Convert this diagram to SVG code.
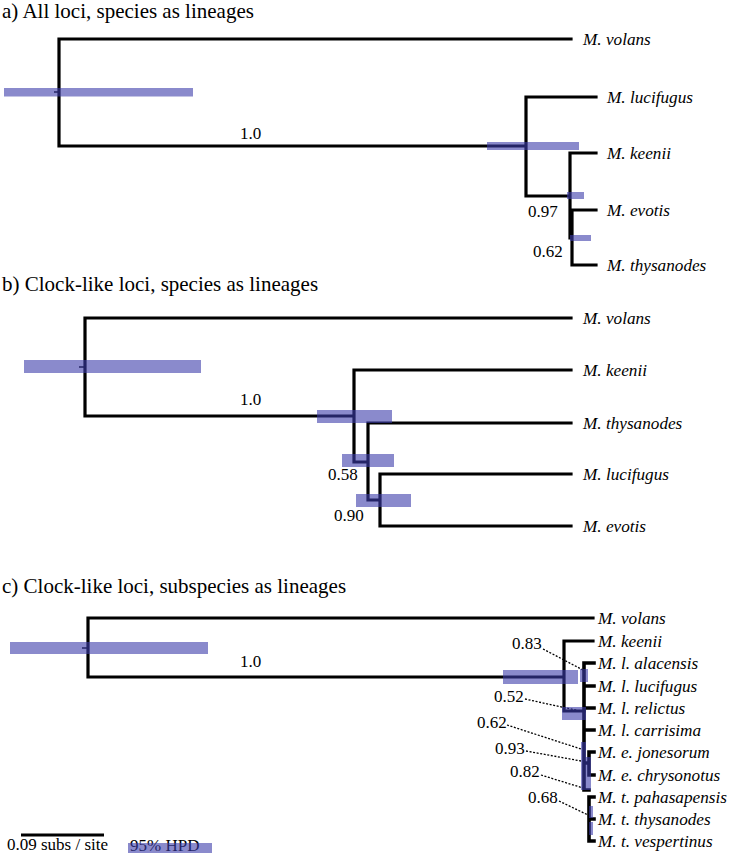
<svg xmlns="http://www.w3.org/2000/svg" width="730" height="853" viewBox="0 0 730 853">
<style>
text{font-family:"Liberation Serif","Times New Roman",serif;fill:#000}
.title{font-size:21px}
.tip{font-size:17.2px;font-style:italic}
.sup{font-size:17px}
.br{stroke:#000;stroke-width:3.2;fill:none;stroke-linecap:square}
.stub{stroke:#000;stroke-width:1.5}
.hpd{fill:rgb(60,60,170);fill-opacity:0.6}
.dot{stroke:#000;stroke-width:1.3;stroke-dasharray:2 1.6;fill:none}
</style>
<rect width="730" height="853" fill="#fff"/>

<g id="panel-a">
<text class="title" x="2" y="18">a) All loci, species as lineages</text>
<g id="a-connectors">
<line class="stub" x1="54" y1="92" x2="59" y2="92"/>
<path class="br" d="M571,39 H59 V146 H526 M596,97 H526 V196 H570 M596,153 H570 V238 H572 M596,210 H572 V265 H596"/>
</g>
<g id="a-hpd">
<rect class="hpd" x="4" y="88" width="189" height="8.5"/>
<rect class="hpd" x="487" y="142" width="92" height="8"/>
<rect class="hpd" x="567" y="192" width="17" height="7"/>
<rect class="hpd" x="570" y="235" width="21" height="6"/>
</g>
<g id="a-labels">
<text class="sup" x="240" y="139">1.0</text>
<text class="sup" x="528" y="217">0.97</text>
<text class="sup" x="533" y="257">0.62</text>
</g>
<g id="a-volans"><text class="tip" x="583" y="45">M. volans</text></g>
<g id="a-lucifugus"><text class="tip" x="607" y="102.5">M. lucifugus</text></g>
<g id="a-keenii"><text class="tip" x="607" y="158.5">M. keenii</text></g>
<g id="a-evotis"><text class="tip" x="607" y="215.5">M. evotis</text></g>
<g id="a-thysanodes"><text class="tip" x="607" y="270.5">M. thysanodes</text></g>
</g>

<g id="panel-b">
<text class="title" x="2" y="291">b) Clock-like loci, species as lineages</text>
<g id="b-connectors">
<line class="stub" x1="79" y1="367" x2="85" y2="367"/>
<path class="br" d="M571,318 H85 V416 H354 M571,370 H354 V462 H368 M571,423 H368 V500 H380 M571,474 H380 V526 H571"/>
</g>
<g id="b-hpd">
<rect class="hpd" x="24" y="360" width="177" height="13"/>
<rect class="hpd" x="317" y="410" width="75" height="13"/>
<rect class="hpd" x="342" y="454" width="52" height="13"/>
<rect class="hpd" x="356" y="494" width="55" height="13"/>
</g>
<g id="b-labels">
<text class="sup" x="240" y="405">1.0</text>
<text class="sup" x="328" y="480">0.58</text>
<text class="sup" x="334" y="521">0.90</text>
</g>
<g id="b-volans"><text class="tip" x="583" y="324">M. volans</text></g>
<g id="b-keenii"><text class="tip" x="583" y="376">M. keenii</text></g>
<g id="b-thysanodes"><text class="tip" x="583" y="429">M. thysanodes</text></g>
<g id="b-lucifugus"><text class="tip" x="583" y="480">M. lucifugus</text></g>
<g id="b-evotis"><text class="tip" x="583" y="532">M. evotis</text></g>
</g>

<g id="panel-c">
<text class="title" x="2" y="593">c) Clock-like loci, subspecies as lineages</text>
<g id="c-connectors">
<line class="stub" x1="82" y1="648" x2="88" y2="648"/>
<path class="br" d="M593,618 H88 V677 H564 M593,641 H564 V711 H584"/>
<path class="br" style="stroke-width:3.6" d="M594,663 H584 V790 H589 M584,686 H594 M584,708 H594 M584,730 H594 M584,763 H589 M594,752 H589 V775 H594 M594,797 H589 V841 H594 M589,819 H594"/>
<path class="dot" d="M543,649 L583,670 M525,699 L580,711 M507,725 L581,749 M526,751 L581,761 M541,775 L583,788 M559,801 L588,815"/>
</g>
<g id="c-hpd">
<rect class="hpd" x="10" y="642" width="198" height="12"/>
<rect class="hpd" x="503" y="670" width="75" height="14"/>
<rect class="hpd" x="580" y="669" width="8" height="13"/>
<rect class="hpd" x="562" y="707" width="24" height="13"/>
<rect class="hpd" x="581" y="742" width="5" height="48"/>
<rect class="hpd" x="586" y="757" width="5" height="33"/>
<rect class="hpd" x="589" y="806" width="4" height="12"/>
<rect class="hpd" x="589" y="822" width="4" height="13"/>
</g>
<g id="c-labels">
<text class="sup" x="240" y="667">1.0</text>
<text class="sup" x="512" y="649">0.83</text>
<text class="sup" x="494" y="702">0.52</text>
<text class="sup" x="477" y="728">0.62</text>
<text class="sup" x="495" y="754">0.93</text>
<text class="sup" x="510" y="777">0.82</text>
<text class="sup" x="528" y="803">0.68</text>
</g>
<g id="c-volans"><text class="tip" x="598" y="623.5">M. volans</text></g>
<g id="c-keenii"><text class="tip" x="598" y="646.5">M. keenii</text></g>
<g id="c-alacensis"><text class="tip" x="598" y="668.5">M. l. alacensis</text></g>
<g id="c-lucifugus"><text class="tip" x="598" y="691.5">M. l. lucifugus</text></g>
<g id="c-relictus"><text class="tip" x="598" y="713.5">M. l. relictus</text></g>
<g id="c-carrisima"><text class="tip" x="598" y="735.5">M. l. carrisima</text></g>
<g id="c-jonesorum"><text class="tip" x="598" y="757.5">M. e. jonesorum</text></g>
<g id="c-chrysonotus"><text class="tip" x="598" y="780.5">M. e. chrysonotus</text></g>
<g id="c-pahasapensis"><text class="tip" x="598" y="802.5">M. t. pahasapensis</text></g>
<g id="c-thysanodes"><text class="tip" x="598" y="824.5">M. t. thysanodes</text></g>
<g id="c-vespertinus"><text class="tip" x="598" y="846.5">M. t. vespertinus</text></g>
</g>

<g id="legend">
<line class="br" x1="21" y1="835" x2="104" y2="835" style="stroke-linecap:butt"/>
<text class="sup" x="7" y="850">0.09 subs / site</text>
<text class="sup" x="130" y="851">95% HPD</text>
<rect class="hpd" x="128" y="843" width="84" height="10"/>
</g>
</svg>
